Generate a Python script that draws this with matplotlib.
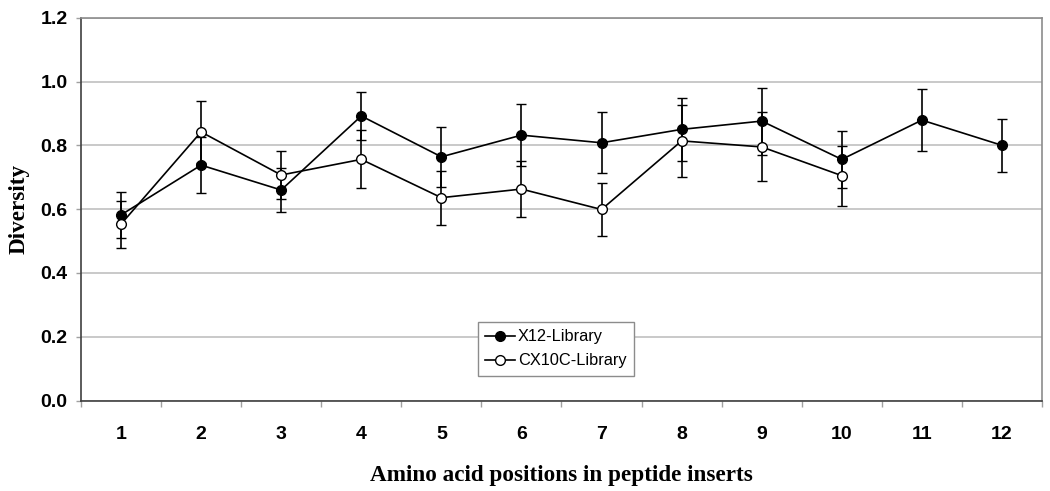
import matplotlib.pyplot as plt
from matplotlib.lines import Line2D
import numpy as np

positions = list(range(1, 13))

x12_div = [0.582, 0.738, 0.660, 0.892, 0.764, 0.832, 0.808, 0.850, 0.876, 0.756, 0.879, 0.800]
x12_err = [0.073, 0.087, 0.069, 0.076, 0.094, 0.096, 0.095, 0.099, 0.105, 0.089, 0.096, 0.082]

cx10c_pos = list(range(1, 11))
cx10c_div = [0.553, 0.842, 0.707, 0.756, 0.636, 0.663, 0.599, 0.814, 0.795, 0.705]
cx10c_err = [0.074, 0.096, 0.074, 0.091, 0.085, 0.089, 0.082, 0.113, 0.108, 0.094]

yticks = [0.0, 0.2, 0.4, 0.6, 0.8, 1.0, 1.2]

fig = plt.figure(figsize=(10.5, 4.91), dpi=100)
ax = fig.add_axes([0.0771, 0.184, 0.9153, 0.780])

ax.errorbar(positions, x12_div, yerr=x12_err, color='black', lw=1.2,
            marker='o', ms=7, mfc='black', mec='black', mew=1,
            ecolor='black', elinewidth=1.2, capsize=3.6, capthick=1.2, zorder=3)
ax.errorbar(cx10c_pos, cx10c_div, yerr=cx10c_err, color='black', lw=1.2,
            marker='o', ms=7, mfc='white', mec='black', mew=1,
            ecolor='black', elinewidth=1.2, capsize=3.6, capthick=1.2, zorder=4)

ax.set_xlim(0.5, 12.5)
ax.set_ylim(0, 1.2)
ax.set_yticks(yticks)
ax.set_yticklabels(['%.1f' % v for v in yticks])
ax.yaxis.grid(True, color='#c0c0c0', lw=1.2)
ax.set_axisbelow(True)

# ticks between categories, labels centred
ax.set_xticks(np.arange(0.5, 13, 1))
ax.set_xticklabels([])
ax.set_xticks(positions, minor=True)
ax.set_xticklabels([str(p) for p in positions], minor=True)
ax.tick_params(axis='x', which='major', length=4.3, color='#a0a0a0', width=1)
ax.tick_params(axis='x', which='minor', length=0, pad=18.5)
ax.tick_params(axis='y', length=3.6, color='#a0a0a0', width=1, pad=6)

for lab in ax.get_xticklabels(minor=True) + ax.get_yticklabels():
    lab.set_fontfamily('Liberation Sans')
    lab.set_fontweight('bold')
    lab.set_fontsize(14)

for side in ['left', 'bottom']:
    ax.spines[side].set_color('#404040')
    ax.spines[side].set_linewidth(1.2)
for side in ['top', 'right']:
    ax.spines[side].set_color('#8c8c8c')
    ax.spines[side].set_linewidth(1.2)

ax.set_xlabel('Amino acid positions in peptide inserts', fontfamily='Liberation Serif',
              fontweight='bold', fontsize=16.7, labelpad=15.5)
ax.set_ylabel('Diversity', fontfamily='Liberation Serif', fontweight='bold',
              fontsize=16.7, labelpad=8)

handles = [
    Line2D([], [], color='black', lw=1.2, marker='o', ms=7, mfc='black', mec='black'),
    Line2D([], [], color='black', lw=1.2, marker='o', ms=7, mfc='white', mec='black'),
]
leg = ax.legend(handles, ['X12-Library', 'CX10C-Library'],
                loc='lower left', bbox_to_anchor=(0.413, 0.065), borderaxespad=0,
                fancybox=False, edgecolor='#8c8c8c', framealpha=1,
                prop={'family': 'Liberation Sans', 'size': 11.8},
                handlelength=1.8, handletextpad=0.2, borderpad=0.45, labelspacing=0.55)
leg.get_frame().set_linewidth(1.0)

fig.savefig('out.png', dpi=100)
